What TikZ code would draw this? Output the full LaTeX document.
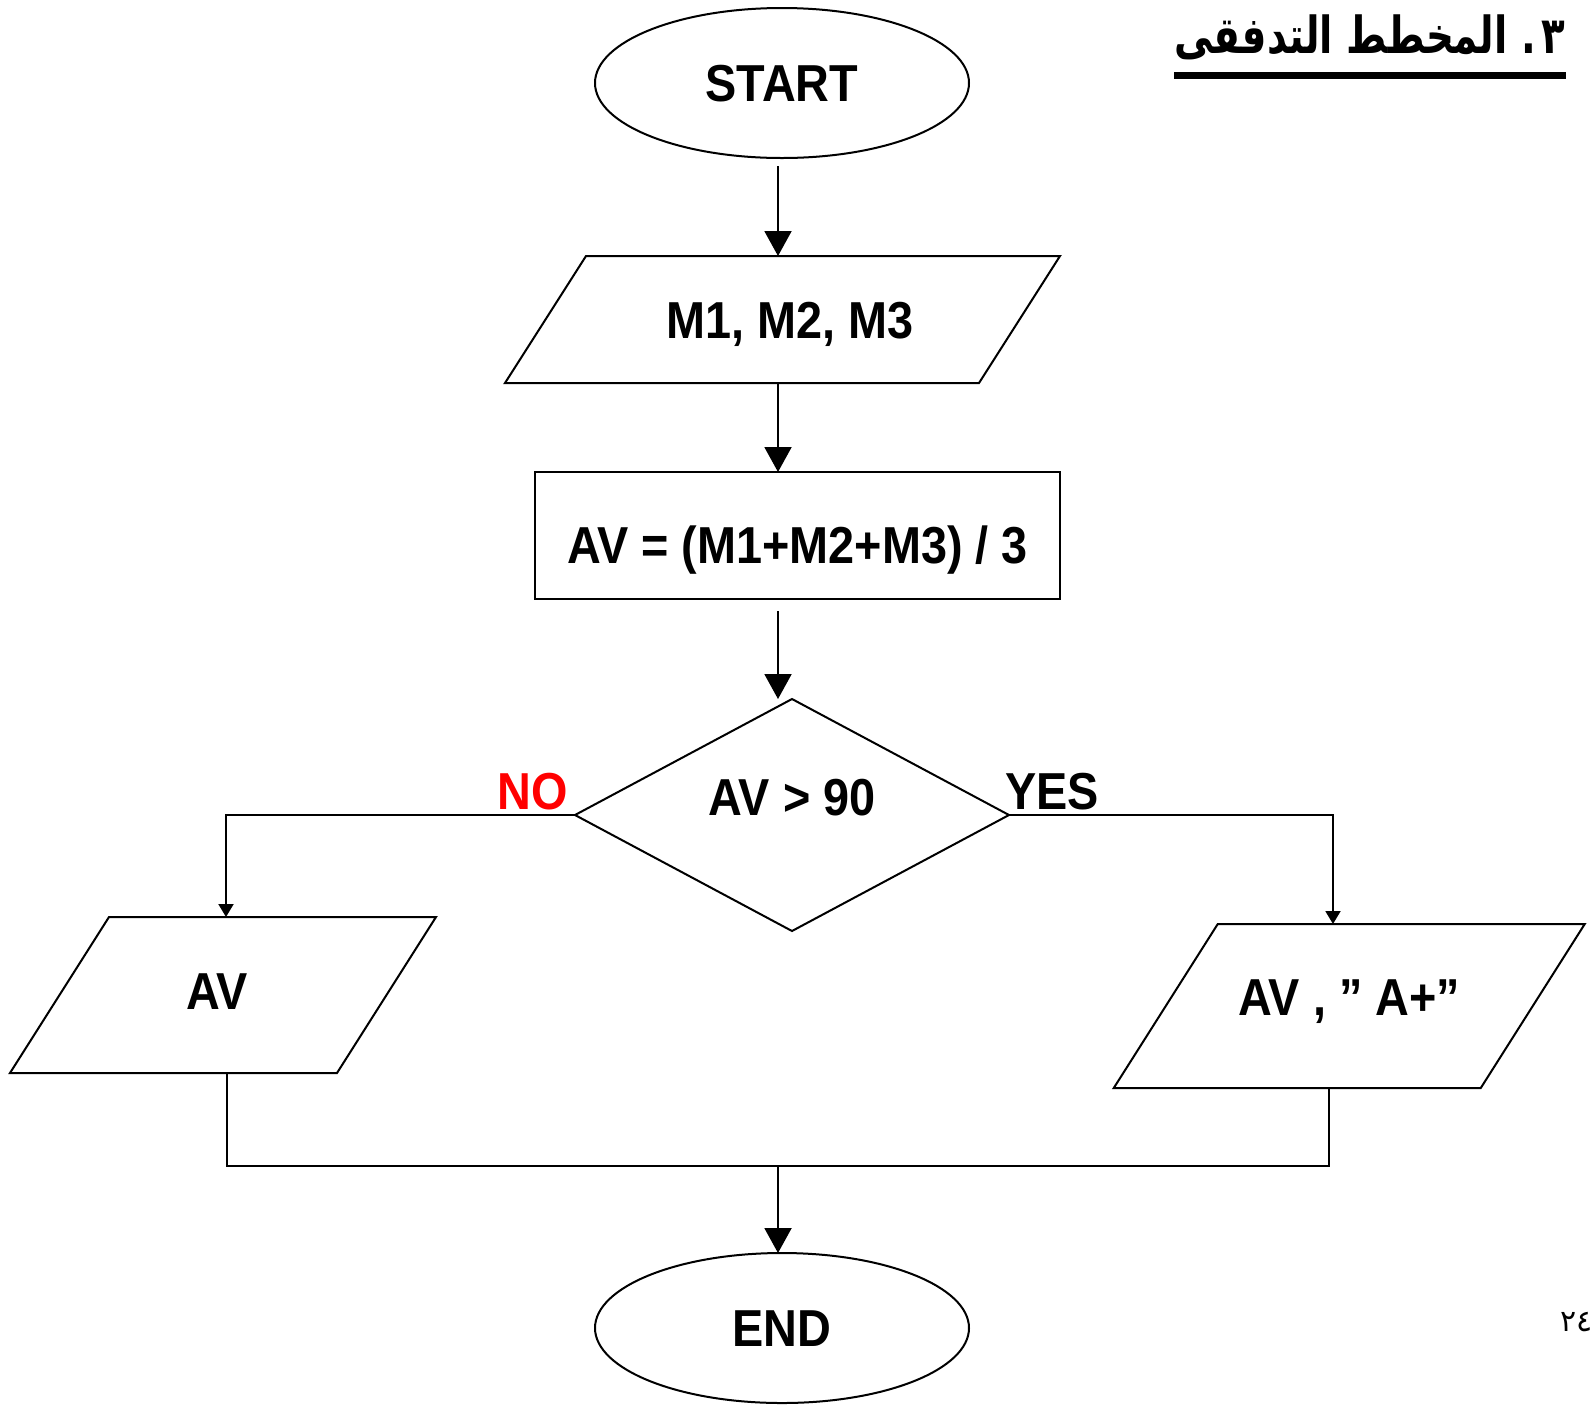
\documentclass[tikz,border=0pt]{standalone}
\usepackage{fontspec}
\setmainfont{Liberation Sans}[FakeStretch=0.9]
\newfontfamily\arabicfont[Script=Arabic]{DejaVu Sans}
\newfontfamily\arabicnarrow[Script=Arabic, FakeStretch=0.76]{DejaVu Sans}
\TeXXeTstate=1
\usetikzlibrary{shapes.geometric,arrows.meta,calc}

% parallelogram drawn around a (borderless) node: #1 node name, #2 half of the slant offset
\newcommand\slantbox[2]{%
  \draw[outline] ($(#1.north west)+(#2,0)$) -- ($(#1.north east)+(#2,0)$)
    -- ($(#1.south east)-(#2,0)$) -- ($(#1.south west)-(#2,0)$) -- cycle;}
% shift a label vertically without changing its box
\newcommand\nudge[2]{\raisebox{#1}[\height][\depth]{#2}}

\tikzset{
  outline/.style={draw=black, line width=1pt},
  lbl/.style={font=\fontsize{26}{30}\selectfont\bfseries, text height=18.6pt,
    text depth=0pt, inner sep=0pt, outer sep=0pt},
  term/.style={lbl, outline, ellipse, minimum width=187pt, minimum height=75pt},
  procbox/.style={lbl, outline, rectangle, minimum width=262.5pt, minimum height=63.5pt},
  decbox/.style={lbl, outline, diamond, minimum width=217pt, minimum height=116pt},
  iobox/.style 2 args={lbl, rectangle, minimum width=#1, minimum height=#2},
  flow/.style={line width=1pt},
  bigarrow/.style={flow, -{Triangle[width=13.5pt,length=12.5pt]}},
  smallarrow/.style={flow, -{Triangle[width=7.5pt,length=6.5pt]}},
  branch/.style={lbl},
}

\begin{document}
\begin{tikzpicture}[x=0.5pt, y=-0.5pt]
\useasboundingbox (0,0) rectangle (1595,1404);

% heading and page number
\node[anchor=base east, inner sep=0pt] (title) at (1566,53)
  {\arabicnarrow\bfseries\fontsize{25.5}{30}\selectfont\beginR ٣\kern3pt.\ المخطط التدفقى\endR};
\coordinate (ulY) at (0,75);
\draw[line width=3.5pt] (title.west |- ulY) -- (title.east |- ulY);
\node[anchor=west, inner sep=0pt] (pageno) at (1560,1322)
  {\arabicfont\fontsize{15}{18}\selectfont ٢٤};

% columns used by the connectors
\coordinate (col) at (778,0);
\coordinate (colL) at (226,0);
\coordinate (colR) at (1333,0);
\coordinate (joinL) at (227,0);
\coordinate (joinR) at (1329,0);

% flowchart shapes
\node[term] (start) at (782,83) {START};

\node[iobox={237pt}{63.5pt}] (io1) at (782.5,319.5) {\hspace*{7.5pt}M1, M2, M3};
\slantbox{io1}{40.5}

\node[procbox] (proc) at (797.5,535.5) {\nudge{-4.75pt}{AV = (M1+M2+M3) / 3}};

\node[decbox] (dec) at (792,815) {\nudge{9pt}{AV > 90}};

\node[iobox={163.5pt}{78pt}] (ioL) at (223,995) {\nudge{2pt}{AV\hspace*{6pt}}};
\slantbox{ioL}{49.5}

\node[iobox={183.5pt}{82pt}] (ioR) at (1349.25,1006) {\nudge{4.5pt}{AV , ” A+”}};
\slantbox{ioR}{52}

\node[term] (end) at (782,1328) {END};

% branch labels
\node[branch, text=red] (nolbl) at (533,791) {NO};
\node[branch] (yeslbl) at (1052,791) {YES};

% connectors
\draw[bigarrow, shorten <=4pt] (start.south -| col) -- (io1.north -| col);
\draw[bigarrow] (io1.south -| col) -- (proc.north -| col);
\draw[bigarrow, shorten <=6pt] (proc.south -| col) -- (dec.north -| col);
\draw[smallarrow] (dec.west) -| (ioL.north -| colL);
\draw[smallarrow] (dec.east) -| (ioR.north -| colR);
\coordinate (merge) at (778,1166);
\draw[flow] (ioL.south -| joinL) -- (joinL |- merge) -- (joinR |- merge) -- (ioR.south -| joinR);
\draw[bigarrow] (merge) -- (end.north -| col);
\end{tikzpicture}
\end{document}
